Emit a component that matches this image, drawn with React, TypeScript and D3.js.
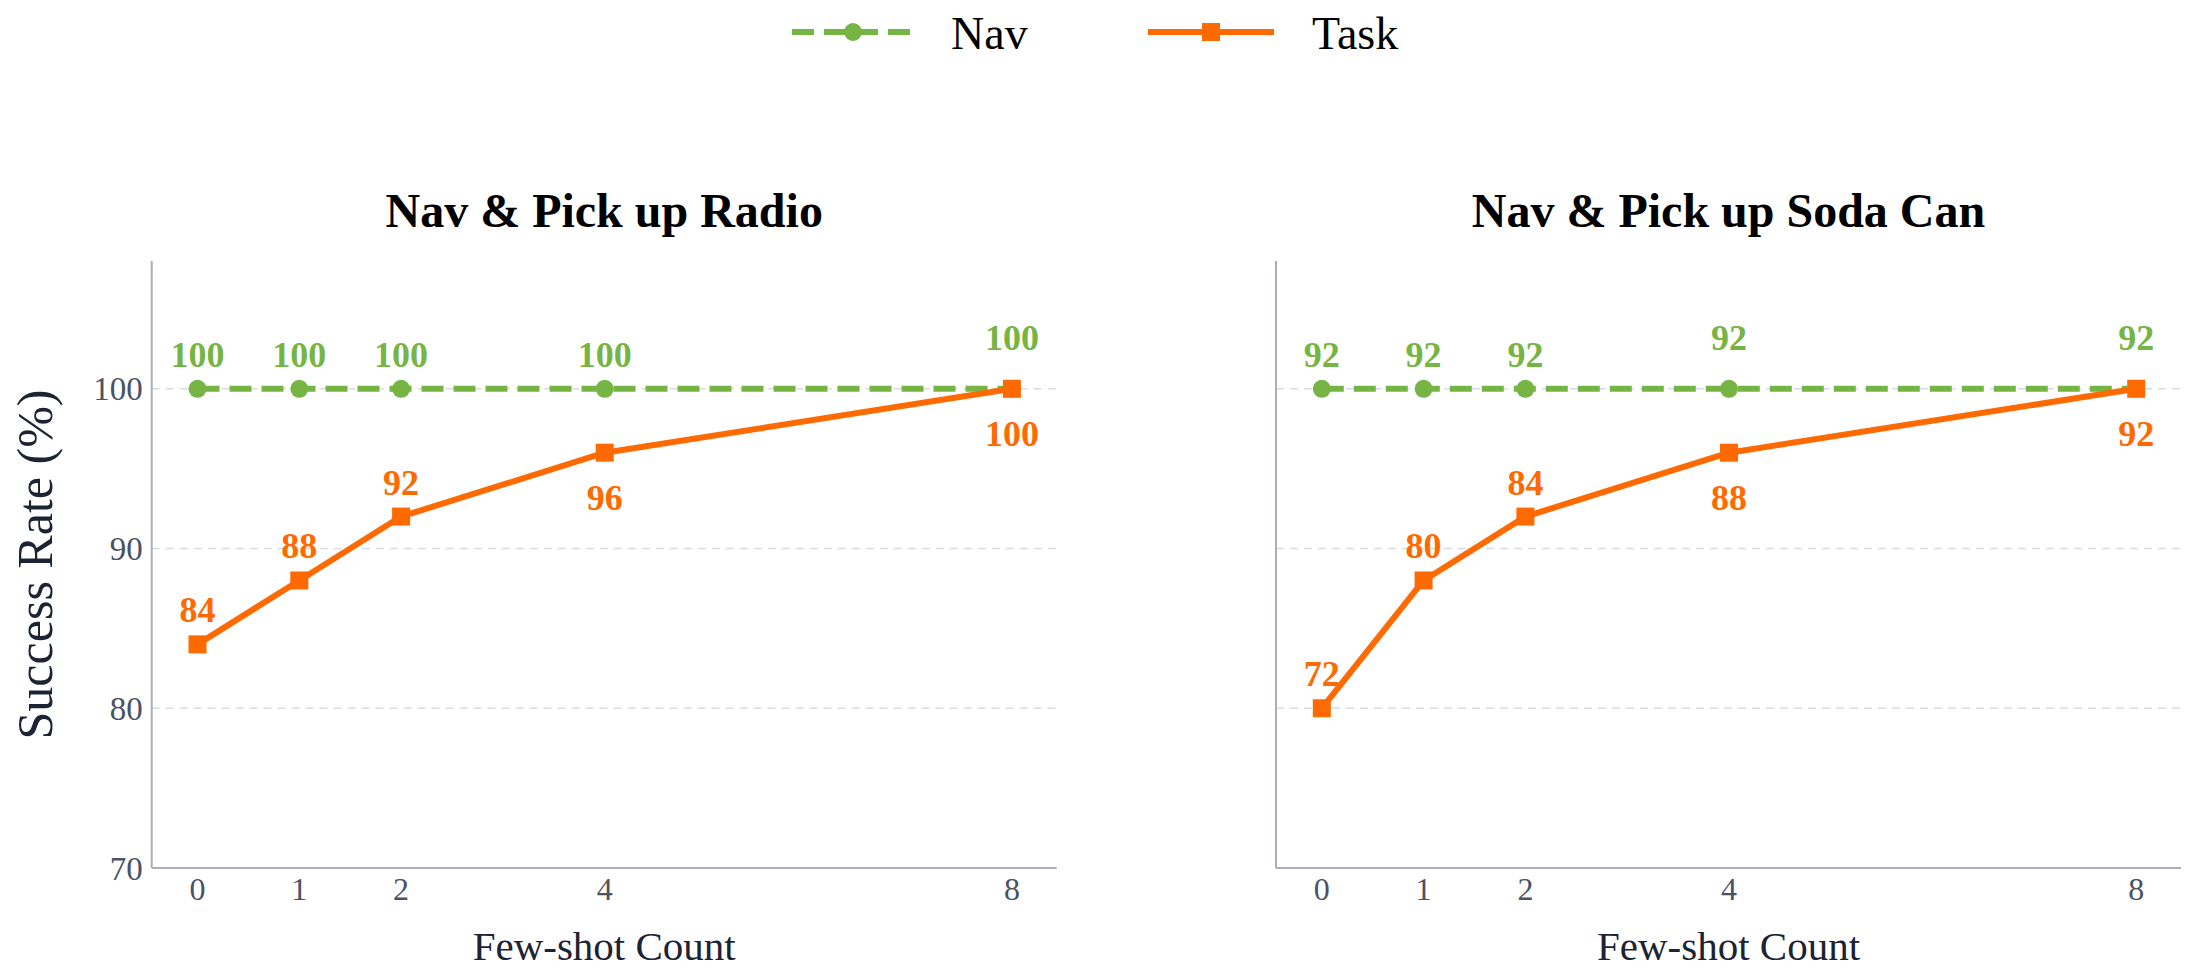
import { useEffect } from 'react'
import * as d3 from 'd3'

const SHOTS = [0, 1, 2, 4, 8]
const Y_TICKS = [70, 80, 90, 100]
const GRID_VALUES = [80, 90, 100]

// Radio panel: plotted value and printed label are the same
const RADIO_NAV = [100, 100, 100, 100, 100]
const RADIO_TASK = [84, 88, 92, 96, 100]

// Soda can panel: markers sit on the plotted values, labels print the reported ones
const SODA_NAV_PLOTTED = [100, 100, 100, 100, 100]
const SODA_NAV_LABELS = [92, 92, 92, 92, 92]
const SODA_TASK_PLOTTED = [80, 88, 92, 96, 100]
const SODA_TASK_LABELS = [72, 80, 84, 88, 92]

const PANEL_TITLES = ['Nav & Pick up Radio', 'Nav & Pick up Soda Can']

// label baseline offsets (px) relative to the marker centre
const RADIO_NAV_OFFSETS = [-22, -22, -22, -22, -39]
const RADIO_TASK_OFFSETS = [-22, -22, -22, 57, 57]
const SODA_NAV_OFFSETS = [-22, -22, -22, -39, -39]
const SODA_TASK_OFFSETS = [-22, -22, -22, 57, 57]

const WIDTH = 2200
const HEIGHT = 978
const FONT = "'Liberation Serif', 'Times New Roman', Times, serif"
const GREEN = '#76b544'
const ORANGE = '#ff6a00'
const AXIS_COLOR = '#a9aeb8'
const GRID_COLOR = '#d9dce3'
const TICK_COLOR = '#4a5263'
const TITLE_COLOR = '#1c2333'

const PLOT_TOP = 261
const PLOT_BOTTOM = 868
const PANEL_X = [
  [151.7, 1056.7],
  [1276, 2181],
]

interface PanelProps {
  x0: number
  x1: number
  title: string
  navY: number[]
  navText: number[]
  navOffsets: number[]
  taskY: number[]
  taskText: number[]
  taskOffsets: number[]
  showYTicks: boolean
}

function Panel({
  x0,
  x1,
  title,
  navY,
  navText,
  navOffsets,
  taskY,
  taskText,
  taskOffsets,
  showYTicks,
}: PanelProps) {
  const xScale = d3.scaleLinear().domain([-0.45, 8.44]).range([x0, x1])
  const yScale = d3.scaleLinear().domain([70, 108]).range([PLOT_BOTTOM, PLOT_TOP])

  const line = d3
    .line<[number, number]>()
    .x((d) => xScale(d[0]))
    .y((d) => yScale(d[1]))

  const navPts = SHOTS.map((s, i) => [s, navY[i]] as [number, number])
  const taskPts = SHOTS.map((s, i) => [s, taskY[i]] as [number, number])
  const cx = (x0 + x1) / 2

  return (
    <g>
      <text
        x={cx}
        y={227}
        textAnchor="middle"
        fontFamily={FONT}
        fontWeight="bold"
        fontSize={48}
        fill="#000"
      >
        {title}
      </text>

      {GRID_VALUES.map((v) => (
        <line
          key={v}
          x1={x0}
          x2={x1}
          y1={yScale(v)}
          y2={yScale(v)}
          stroke={GRID_COLOR}
          strokeWidth={1.5}
          strokeDasharray="8 6"
        />
      ))}

      <line x1={x0} x2={x0} y1={PLOT_TOP} y2={PLOT_BOTTOM} stroke={AXIS_COLOR} strokeWidth={2} />
      <line x1={x0} x2={x1} y1={PLOT_BOTTOM} y2={PLOT_BOTTOM} stroke={AXIS_COLOR} strokeWidth={2} />

      {showYTicks &&
        Y_TICKS.map((v) => (
          <text
            key={v}
            x={x0 - 9}
            y={yScale(v)}
            dy="0.35em"
            textAnchor="end"
            fontFamily={FONT}
            fontSize={33}
            fill={TICK_COLOR}
          >
            {v}
          </text>
        ))}

      {SHOTS.map((s) => (
        <text
          key={s}
          x={xScale(s)}
          y={900}
          textAnchor="middle"
          fontFamily={FONT}
          fontSize={32}
          fill={TICK_COLOR}
        >
          {s}
        </text>
      ))}

      <text
        x={cx}
        y={960}
        textAnchor="middle"
        fontFamily={FONT}
        fontSize={41}
        fill={TITLE_COLOR}
      >
        Few-shot Count
      </text>

      <path
        d={line(navPts) ?? ''}
        fill="none"
        stroke={GREEN}
        strokeWidth={6}
        strokeDasharray="22 10"
      />
      {navPts.map((p, i) => (
        <circle key={i} cx={xScale(p[0])} cy={yScale(p[1])} r={9} fill={GREEN} />
      ))}

      <path d={line(taskPts) ?? ''} fill="none" stroke={ORANGE} strokeWidth={6} strokeLinejoin="round" />
      {taskPts.map((p, i) => (
        <rect
          key={i}
          x={xScale(p[0]) - 9}
          y={yScale(p[1]) - 9}
          width={18}
          height={18}
          fill={ORANGE}
        />
      ))}

      {navPts.map((p, i) => (
        <text
          key={i}
          x={xScale(p[0])}
          y={yScale(p[1]) + navOffsets[i]}
          textAnchor="middle"
          fontFamily={FONT}
          fontWeight="bold"
          fontSize={36}
          fill={GREEN}
        >
          {navText[i]}
        </text>
      ))}
      {taskPts.map((p, i) => (
        <text
          key={i}
          x={xScale(p[0])}
          y={yScale(p[1]) + taskOffsets[i]}
          textAnchor="middle"
          fontFamily={FONT}
          fontWeight="bold"
          fontSize={36}
          fill={ORANGE}
        >
          {taskText[i]}
        </text>
      ))}
    </g>
  )
}

export default function App() {
  useEffect(() => {
    document.body.style.margin = '0'
  }, [])

  return (
    <svg
      width={WIDTH}
      height={HEIGHT}
      style={{ position: 'absolute', left: 0, top: 0, background: '#fff' }}
    >
      <rect width={WIDTH} height={HEIGHT} fill="#fff" />

      {/* legend */}
      <line x1={792} x2={913} y1={32} y2={32} stroke={GREEN} strokeWidth={6} strokeDasharray="22 10" />
      <circle cx={853} cy={32} r={9} fill={GREEN} />
      <text x={951} y={49} fontFamily={FONT} fontSize={46} fill="#000">
        Nav
      </text>
      <line x1={1148} x2={1274} y1={32} y2={32} stroke={ORANGE} strokeWidth={6} />
      <rect x={1202} y={23} width={18} height={18} fill={ORANGE} />
      <text x={1312} y={49} fontFamily={FONT} fontSize={46} fill="#000">
        Task
      </text>

      <text
        transform={`translate(52,${(PLOT_TOP + PLOT_BOTTOM) / 2}) rotate(-90)`}
        textAnchor="middle"
        fontFamily={FONT}
        fontSize={50}
        fill={TITLE_COLOR}
      >
        Success Rate (%)
      </text>

      <Panel
        x0={PANEL_X[0][0]}
        x1={PANEL_X[0][1]}
        title={PANEL_TITLES[0]}
        navY={RADIO_NAV}
        navText={RADIO_NAV}
        navOffsets={RADIO_NAV_OFFSETS}
        taskY={RADIO_TASK}
        taskText={RADIO_TASK}
        taskOffsets={RADIO_TASK_OFFSETS}
        showYTicks
      />
      <Panel
        x0={PANEL_X[1][0]}
        x1={PANEL_X[1][1]}
        title={PANEL_TITLES[1]}
        navY={SODA_NAV_PLOTTED}
        navText={SODA_NAV_LABELS}
        navOffsets={SODA_NAV_OFFSETS}
        taskY={SODA_TASK_PLOTTED}
        taskText={SODA_TASK_LABELS}
        taskOffsets={SODA_TASK_OFFSETS}
        showYTicks={false}
      />
    </svg>
  )
}
